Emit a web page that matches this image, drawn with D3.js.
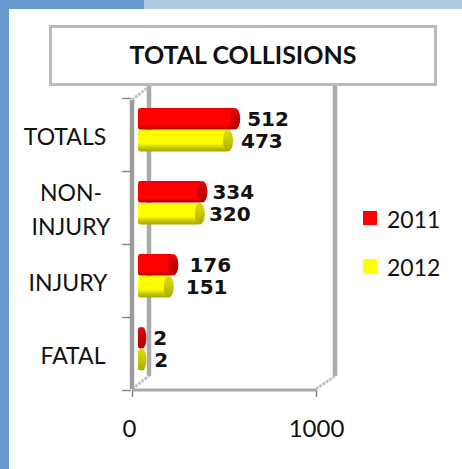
<!DOCTYPE html>
<html><head><meta charset="utf-8">
<script src="https://cdn.jsdelivr.net/npm/d3@7"></script>
<style>html,body{margin:0;padding:0;background:#fff}svg{display:block}</style>
</head><body><svg id="c" width="462" height="469"></svg>
<script>
const categories = ["TOTALS","NON-INJURY","INJURY","FATAL"];
const categoryLines = [["TOTALS"],["NON-","INJURY"],["INJURY"],["FATAL"]];
const series2011 = [512,334,176,2];
const series2012 = [473,320,151,2];
const seriesNames = ["2011","2012"];
const xTicks = [0,1000];
const titleText = "TOTAL COLLISIONS";

const svg = d3.select("#c");
const FONT = "Lato, Carlito, sans-serif";
const x = d3.scaleLinear().domain([0,1000]).range([132,316]);
const y = d3.scaleBand().domain(categories).range([98,390]);
const inner = d3.scaleBand().domain(seriesNames).range([10,54]);
const len = v => x(v) - x(0);

// page frame
svg.append("rect").attr("x",0).attr("y",0).attr("width",462).attr("height",9).attr("fill","#b0cce5");
svg.append("rect").attr("x",0).attr("y",0).attr("width",144).attr("height",9).attr("fill","#6699cc");
svg.append("rect").attr("x",0).attr("y",0).attr("width",9).attr("height",469).attr("fill","#6699cc");

// gradients
const defs = svg.append("defs");
function grad(id, stops){
  const g = defs.append("linearGradient").attr("id",id).attr("x1",0).attr("x2",0).attr("y1",0).attr("y2",1);
  stops.forEach(s=>g.append("stop").attr("offset",s[0]).attr("stop-color",s[1]));
}
grad("g2011",[[0,"#e80000"],[.12,"#ff0000"],[.8,"#ff0000"],[1,"#a80000"]]);
grad("g2012",[[0,"#f4f400"],[.1,"#ffff00"],[.62,"#ffff00"],[.85,"#c0c000"],[1,"#a8a800"]]);
grad("c2011",[[0,"#e01010"],[.5,"#c80000"],[1,"#b80000"]]);
grad("c2012",[[0,"#dcdc00"],[.5,"#c8c800"],[1,"#a8a800"]]);

// 3D walls
const wall = "#aaaaaa";
const line = (x1,y1,x2,y2,w,c,dash)=>svg.append("line").attr("x1",x1).attr("y1",y1).attr("x2",x2).attr("y2",y2)
  .attr("stroke",c).attr("stroke-width",w).attr("stroke-dasharray",dash||null);
line(149,85,149,376,4.5,wall);
line(335,85,335,376,4.5,wall);
line(132,100,147,88,3,"#c4c4c4","3 1");
line(132,389,149,376,3,"#c4c4c4","3 1");
line(316,389,335,376,3,"#c4c4c4","3 1");
line(132,100,132,389,4.5,"#9c9c9c");

// axes
const ay = d3.axisLeft(d3.scalePoint().domain(d3.range(5)).range([98,390])).tickSize(9).tickFormat("");
const gy = svg.append("g").attr("transform","translate(131,0)").call(ay);
gy.select(".domain").remove();
gy.selectAll("line").attr("stroke","#888").attr("stroke-width",1.5);

const ax = d3.axisBottom(x).tickValues(xTicks).tickSize(7).tickPadding(23).tickFormat(d3.format("d"));
const gx = svg.append("g").attr("transform","translate(0,390)").call(ax);
gx.select(".domain").attr("stroke","#aaa").attr("stroke-width",3).attr("d","M132,0H316");
gx.selectAll("line").attr("stroke","#888").attr("stroke-width",1.5);
gx.selectAll("text").attr("font-family",FONT).attr("font-size",24).attr("fill","#111");
gx.selectAll("text").filter(d=>d===0).attr("dx",-3);

// bars
const barX = 138;
const drawSeries = (vals,name,labelOff,nudge)=>{
  const g = svg.append("g");
  const h = inner.bandwidth();
  const rows = g.selectAll("g").data(vals).join("g")
    .attr("transform",(d,i)=>`translate(0,${y(categories[i])+inner(name)})`);
  const r = d => Math.min(5, 3.5 + len(d)/2);
  const bodyW = d => Math.max(3.5,len(d)+8-r(d));
  rows.append("rect").attr("class","body").attr("x",barX)
    .attr("y",0).attr("height",h-.5).attr("rx",2.5)
    .attr("width",bodyW)
    .attr("fill",`url(#${len(vals[0])>0?"g":"c"}${name})`)
    .filter(d=>len(d)<5).attr("fill",`url(#c${name})`);
  rows.append("ellipse").attr("cx",d=>barX+bodyW(d))
    .attr("cy",h/2-.3).attr("rx",r).attr("ry",h/2-.2)
    .attr("fill",`url(#c${name})`);
  rows.append("text").attr("x",(d,i)=>x(d)+labelOff+nudge[i]).attr("y",h/2+7)
    .attr("font-family","'DejaVu Sans',Verdana,sans-serif").attr("font-weight","bold")
    .attr("font-size",20).attr("fill","#111").text(d=>d);
};
drawSeries(series2011,"2011",21,[0,-2,4,0]);
drawSeries(series2012,"2012",22,[0,-4,4,0]);

// category labels
const catCenter = [65,71,68,73];
categories.forEach((c,i)=>{
  const lines = categoryLines[i];
  const t = svg.append("text").attr("text-anchor","middle").attr("font-family",FONT)
    .attr("font-size",23).attr("fill","#111");
  const mid = y(c)+y.bandwidth()/2 + 8;
  lines.forEach((l,j)=>t.append("tspan").attr("x",catCenter[i])
    .attr("y",mid+(j-(lines.length-1)/2)*34+2).text(l));
});

// title
svg.append("rect").attr("x",50.5).attr("y",26.5).attr("width",385).attr("height",58)
  .attr("fill","#fff").attr("stroke","#bbbbbb").attr("stroke-width",3);
svg.append("text").attr("x",243).attr("y",64).attr("text-anchor","middle")
  .attr("font-family",FONT).attr("font-weight","bold").attr("font-size",25).attr("fill","#111").text(titleText);

// legend
const colors = d3.scaleOrdinal().domain(seriesNames).range(["#ff0000","#ffff00"]);
const ly = d3.scalePoint().domain(seriesNames).range([211,259]);
const lg = svg.selectAll("g.leg").data(seriesNames).join("g").attr("class","leg")
  .attr("transform",d=>`translate(363,${ly(d)})`);
lg.append("rect").attr("width",14).attr("height",14).attr("fill",d=>colors(d));
lg.append("text").attr("x",24).attr("y",17).attr("font-family",FONT).attr("font-size",23).attr("fill","#111").text(d=>d);
</script></body></html>
